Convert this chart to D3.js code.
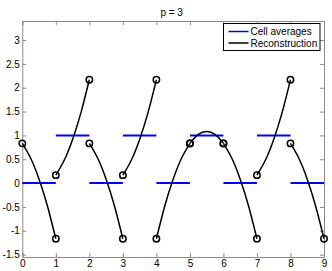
<!DOCTYPE html>
<html>
<head>
<meta charset="utf-8">
<script src="https://cdn.jsdelivr.net/npm/d3@7"></script>
<style>
  body { margin: 0; background: #fff; }
  text { font-family: "Liberation Sans", Arial, sans-serif; }
</style>
</head>
<body>
<div id="chart"></div>
<script>
// cell edges and the average in each cell
const cellEdges = [0, 1, 2, 3, 4, 5, 6, 7, 8, 9];
const cellAverages = [0, 1, 0, 1, 0, 1, 0, 1, 0];

// reconstruction read at t = 0, .25, .5, .75, 1 of each cell
const reconT = [0, 0.25, 0.5, 0.75, 1];
const reconValues = [
  [0.833, 0.521, 0.083, -0.479, -1.167],
  [0.167, 0.479, 0.917, 1.479, 2.167],
  [0.833, 0.521, 0.083, -0.479, -1.167],
  [0.167, 0.479, 0.917, 1.479, 2.167],
  [-1.167, -0.479, 0.083, 0.521, 0.833],
  [0.833, 1.021, 1.083, 1.021, 0.833],
  [0.833, 0.521, 0.083, -0.479, -1.167],
  [0.167, 0.479, 0.917, 1.479, 2.167],
  [0.833, 0.521, 0.083, -0.479, -1.167]
];

const xTicks = [0, 1, 2, 3, 4, 5, 6, 7, 8, 9];
const yTicks = [-1.5, -1, -0.5, 0, 0.5, 1, 1.5, 2, 2.5, 3];
const legendLabels = ["Cell averages", "Reconstruction"];
const titleText = "p = 3";

const width = 332, height = 271;
const margin = {top: 21, right: 8, bottom: 14, left: 22.3};
const innerWidth = width - margin.left - margin.right;
const innerHeight = height - margin.top - margin.bottom;

const svg = d3.select("#chart")
  .append("svg")
    .attr("width", width)
    .attr("height", height);

const g = svg.append("g")
  .attr("transform", `translate(${margin.left},${margin.top})`);

const xScale = d3.scaleLinear().domain([0, 9]).range([0, innerWidth]);
const yScale = d3.scaleLinear().domain([-1.55, 3.4]).range([innerHeight, 0]);

const axisColor = "#8c8c8c";

// axes with inward ticks, MATLAB style box
const xAxis = g.append("g")
  .attr("transform", `translate(0,${innerHeight})`)
  .call(d3.axisBottom(xScale).tickValues(xTicks).tickSize(-4).tickPadding(3).tickFormat(d3.format("d")));
const xAxisTop = g.append("g")
  .call(d3.axisTop(xScale).tickValues(xTicks).tickSize(-4).tickFormat(""));
const yAxis = g.append("g")
  .call(d3.axisLeft(yScale).tickValues(yTicks).tickSize(-4).tickPadding(2.5).tickFormat(d => String(d)));
const yAxisRight = g.append("g")
  .attr("transform", `translate(${innerWidth},0)`)
  .call(d3.axisRight(yScale).tickValues(yTicks).tickSize(-4).tickFormat(""));

[xAxis, xAxisTop, yAxis, yAxisRight].forEach(a => {
  a.select(".domain").attr("stroke", axisColor).attr("stroke-width", 1);
  a.selectAll(".tick line").attr("stroke", axisColor);
  a.selectAll("text").attr("fill", "#000").style("font-size", "10px");
});

// cell averages
g.selectAll(".avg")
  .data(cellAverages)
  .join("line")
    .attr("class", "avg")
    .attr("x1", (d, i) => xScale(cellEdges[i]))
    .attr("x2", (d, i) => xScale(cellEdges[i + 1]))
    .attr("y1", d => yScale(d))
    .attr("y2", d => yScale(d))
    .attr("stroke", "#0000ff")
    .attr("stroke-width", 2);

// reconstruction pieces
const line = d3.line()
  .x(d => xScale(d.x))
  .y(d => yScale(d.y))
  .curve(d3.curveNatural);

reconValues.forEach((vals, i) => {
  const pts = vals.map((v, k) => ({x: cellEdges[i] + reconT[k], y: v}));
  g.append("path")
    .attr("d", line(pts))
    .attr("fill", "none")
    .attr("stroke", "#000")
    .attr("stroke-width", 1.5);

  [pts[0], pts[pts.length - 1]].forEach(p => {
    g.append("circle")
      .attr("cx", xScale(p.x))
      .attr("cy", yScale(p.y))
      .attr("r", 3.2)
      .attr("fill", "none")
      .attr("stroke", "#000")
      .attr("stroke-width", 1.5);
  });
});

// title
svg.append("text")
  .attr("x", margin.left + innerWidth / 2 - 1.5)
  .attr("y", 15.5)
  .attr("text-anchor", "middle")
  .style("font-size", "10px")
  .text(titleText);

// legend
const legend = svg.append("g").attr("transform", "translate(223.5,23.5)");
legend.append("rect")
  .attr("width", 96.5)
  .attr("height", 27)
  .attr("fill", "#fff")
  .attr("stroke", "#000")
  .attr("stroke-width", 1);
const legendColors = ["#0000ff", "#000"];
legendLabels.forEach((label, i) => {
  legend.append("line")
    .attr("x1", 5).attr("x2", 25)
    .attr("y1", 8 + i * 11.5).attr("y2", 8 + i * 11.5)
    .attr("stroke", legendColors[i])
    .attr("stroke-width", 1.5);
  legend.append("text")
    .attr("x", 27)
    .attr("y", 8 + i * 11.5)
    .attr("dy", "0.35em")
    .style("font-size", "10px")
    .text(label);
});
</script>
</body>
</html>
